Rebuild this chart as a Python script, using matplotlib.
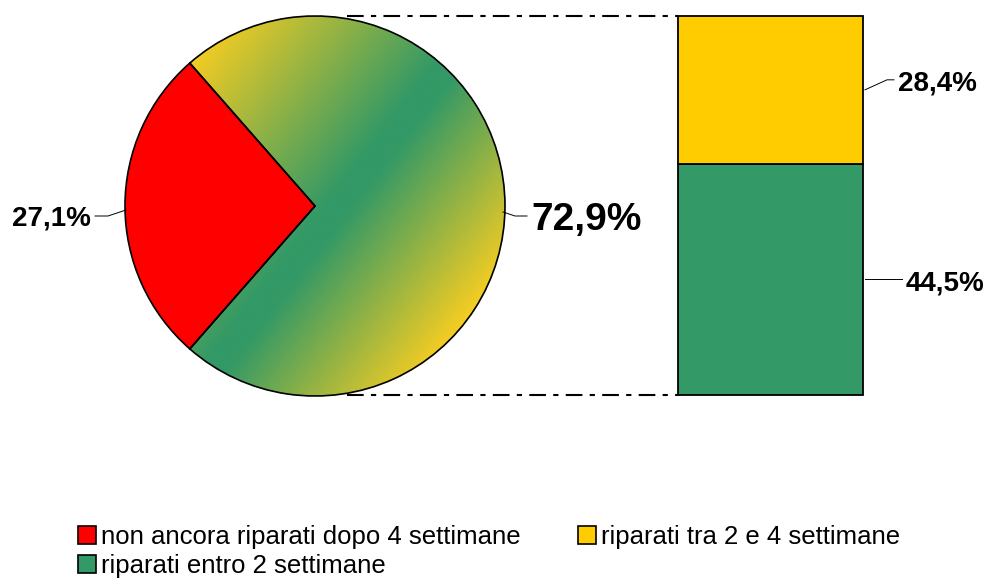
import matplotlib
matplotlib.use('Agg')
import matplotlib.pyplot as plt
import numpy as np
from matplotlib.colors import LinearSegmentedColormap
from matplotlib.patches import Patch

plt.rcParams['font.family'] = ['Liberation Sans', 'DejaVu Sans']

# data
pie_values = [27.1, 72.9]          # non riparati, riparati (totale)
pie_texts = ['27,1%', '72,9%']
bar_values = [44.5, 28.4]          # entro 2 sett., tra 2 e 4 sett.
bar_texts = ['44,5%', '28,4%']
legend_labels = ['non ancora riparati dopo 4 settimane',
                 'riparati entro 2 settimane',
                 'riparati tra 2 e 4 settimane']

RED = '#FF0000'
GREEN = '#339966'
YELLOW = '#FFCC00'

W, H = 986, 583
fig = plt.figure(figsize=(W / 100, H / 100), dpi=100)

# main axes in pixel units (y downwards)
ax = fig.add_axes([0, 0, 1, 1])
cx, cy, r = 315, 206, 190

start = 180 - pie_values[0] / sum(pie_values) * 180
wedges, _ = ax.pie(pie_values, center=(cx, cy), radius=r, startangle=start,
                   colors=[RED, 'none'], frame=True,
                   wedgeprops=dict(edgecolor='black', linewidth=1.2))

# gradient fill of the "riparati" slice (yellow - green - yellow, diagonal)
n = 400
xs = np.linspace(cx - r, cx + r, n)
ys = np.linspace(cy - r, cy + r, n)
X, Y = np.meshgrid(xs, ys)
s = ((X - cx) * 0.79 + (Y - cy) * 0.61) / r
cmap = LinearSegmentedColormap.from_list(
    'yg', [(0, '#F6CD22'), (0.52, GREEN), (0.58, GREEN), (1, '#F6CD22')])
im = ax.imshow(s, extent=(cx - r, cx + r, cy + r, cy - r), origin='upper',
               cmap=cmap, vmin=-1, vmax=1, interpolation='bilinear', zorder=0)
im.set_clip_path(wedges[1])

ax.set_xlim(0, W)
ax.set_ylim(H, 0)
ax.set_aspect('auto')
ax.axis('off')

# stacked bar
bx0, bx1, by0, by1 = 678, 863, 16, 395
axb = fig.add_axes([bx0 / W, 1 - by1 / H, (bx1 - bx0) / W, (by1 - by0) / H])
bottoms = np.concatenate([[0], np.cumsum(bar_values)[:-1]])
bars = axb.bar(0, bar_values, bottom=bottoms, width=1, color=[GREEN, YELLOW],
               edgecolor='black', linewidth=1.3, clip_on=False)
axb.set_xlim(-0.5, 0.5)
axb.set_ylim(0, sum(bar_values))
axb.axis('off')

# dash-dot connectors
for yy in (by0, by1):
    ax.plot([347, bx0], [yy, yy], color='black', lw=1.5,
            linestyle=(0, (8, 3.5, 2.5, 3.5)), solid_capstyle='butt')


def label(x0, y0, dx1, dy1, dx2, text, size, base):
    x1, y1 = x0 + dx1, y0 + dy1
    x2 = x1 + dx2
    ax.plot([x0, x1, x2], [y0, y1, y1], color='black', lw=0.7)
    sign = 1 if dx2 > 0 else -1
    ax.text(x2 + sign * 4, y1 + base, text, fontsize=size, fontweight='bold',
            ha='left' if sign > 0 else 'right', va='baseline')


# pie labels
label(cx - r + 1, cy + 4, -18, 6, -13, pie_texts[0], 20, 9)
label(cx + r - 2, cy + 6, 12, 4, 12, pie_texts[1], 28, 14)

# bar labels
to_px = axb.transData + ax.transData.inverted()
for v, b, t, dy in zip(bar_values, bottoms, bar_texts, (0, -10)):
    px, py = to_px.transform((0.5, b + v / 2))
    dx1 = 37 if dy == 0 else 22
    dx2 = 0.01 if dy == 0 else 7
    label(px + 2, py, dx1, dy, dx2, t, 20, 11)

handles = [Patch(facecolor=RED, edgecolor='black', linewidth=1.2),
           Patch(facecolor=GREEN, edgecolor='black', linewidth=1.2),
           Patch(facecolor=YELLOW, edgecolor='black', linewidth=1.2)]
fig.legend(handles, legend_labels, ncol=2, loc='upper center',
           bbox_to_anchor=(0.5 - 4 / W, 1 - 525 / H), frameon=False,
           fontsize=18.5, handlelength=0.7, handleheight=0.7,
           handletextpad=0.2, columnspacing=2.2, labelspacing=0.2,
           borderpad=0, borderaxespad=0)

fig.savefig('out.png', dpi=100)
